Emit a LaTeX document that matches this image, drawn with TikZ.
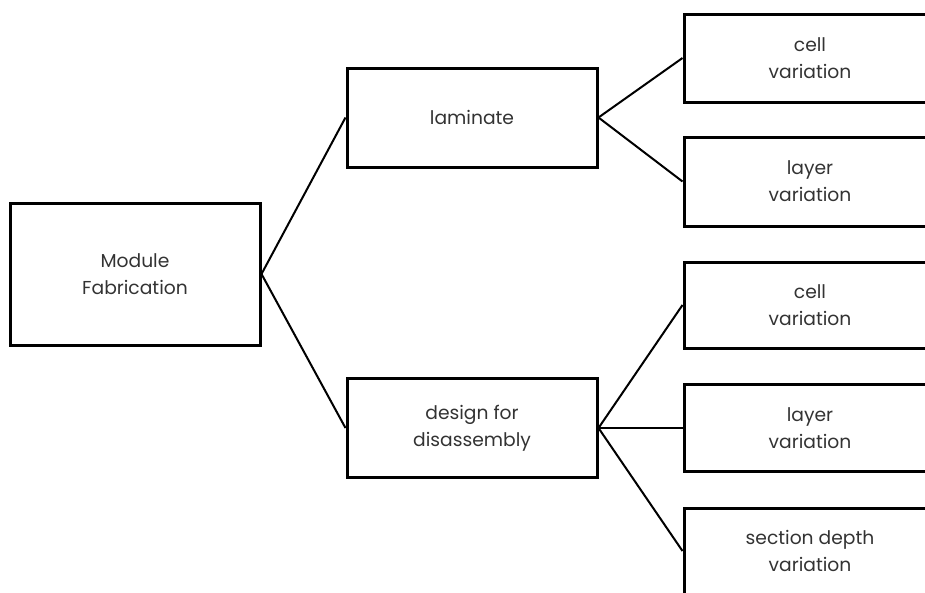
\documentclass[tikz,border=0pt]{standalone}
\usepackage{fontspec}
\setmainfont{Poppins}
\begin{document}
\begin{tikzpicture}[x=1pt,y=-1pt,
  box/.style={draw=black, line width=3pt, rectangle, align=center,
    font=\fontsize{18.7}{27}\selectfont, text=black!80, inner sep=0pt},
  link/.style={draw=black, line width=2pt}]
\useasboundingbox (0,0) rectangle (925,592);
\clip (0,0) rectangle (925,592);
\node[box, minimum width=250pt, minimum height=142pt] (mod) at (135,274) {Module\\Fabrication};
\node[box, minimum width=250pt, minimum height=99pt] (lam) at (472,117.5) {laminate};
\node[box, minimum width=250pt, minimum height=99pt] (dfd) at (472,428) {design for\\disassembly};
\node[box, minimum width=252pt, minimum height=88pt] (c1) at (810,58) {cell\\variation};
\node[box, minimum width=252pt, minimum height=89pt] (l1) at (810,181.5) {layer\\variation};
\node[box, minimum width=252pt, minimum height=86pt] (c2) at (810,305) {cell\\variation};
\node[box, minimum width=252pt, minimum height=87pt] (l2) at (810,428) {layer\\variation};
\node[box, minimum width=252pt, minimum height=86pt] (sd) at (810,551) {section depth\\variation};
\draw[link] (mod.east) -- (lam.west);
\draw[link] (mod.east) -- (dfd.west);
\draw[link] (lam.east) -- (c1.west);
\draw[link] (lam.east) -- (l1.west);
\draw[link] (dfd.east) -- (c2.west);
\draw[link] (dfd.east) -- (l2.west);
\draw[link] (dfd.east) -- (sd.west);
\end{tikzpicture}
\end{document}
